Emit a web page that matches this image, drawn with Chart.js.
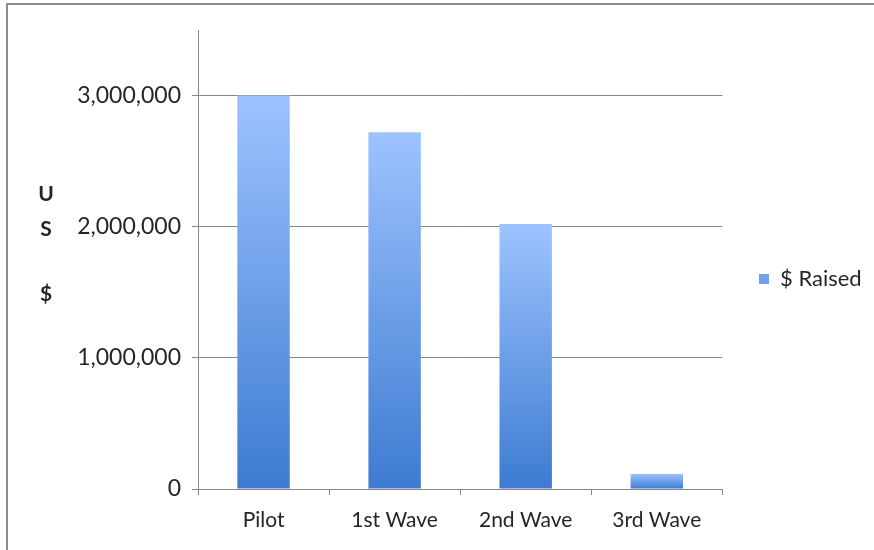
<!DOCTYPE html>
<html>
<head>
<meta charset="utf-8">
<script src="https://cdn.jsdelivr.net/npm/chart.js@4.4.1/dist/chart.umd.min.js"></script>
<style>
  html, body { margin: 0; padding: 0; background: #ffffff; }
  #wrap { width: 874px; height: 550px; position: relative; }
</style>
</head>
<body>
<div id="wrap"><canvas id="chart" width="874" height="550"></canvas></div>
<script>
// Funds raised per campaign phase
const categories = ['Pilot', '1st Wave', '2nd Wave', '3rd Wave'];
const raised = [3000000, 2720000, 2020000, 115000];
const seriesName = '$ Raised';
const yTickValues = [0, 1000000, 2000000, 3000000];
const yTitleLines = ['U', 'S', '$'];

const FONT = 'Lato, "Open Sans", sans-serif';
const TEXT = '#262626';
const LINE = '#878787';

// Vertical gradient for each bar, light at the top and deeper at the base
function barFill(ctx) {
  const chart = ctx.chart;
  if (ctx.type !== 'data' || !chart.chartArea || !chart.scales.y) return '#6a9be6';
  const y = chart.scales.y;
  const top = y.getPixelForValue(ctx.raw);
  const base = y.getPixelForValue(0);
  const g = chart.ctx.createLinearGradient(0, top, 0, base);
  g.addColorStop(0, '#9dc3ff');
  g.addColorStop(1, '#3d7bd1');
  return g;
}

// Outer frame lines, legend placement and the stacked axis caption
const decor = {
  id: 'decor',
  afterLayout(chart) {
    const lg = chart.legend;
    if (lg) {
      const dx = 749 - lg.left;
      lg.left += dx; lg.right += dx;
      lg.top -= 11; lg.bottom -= 11;
    }
  },
  beforeDraw(chart) {
    const c = chart.ctx;
    c.save();
    c.fillStyle = '#ffffff';
    c.fillRect(0, 0, chart.width, chart.height);
    c.strokeStyle = '#8c8c8c';
    c.lineWidth = 2;
    c.beginPath();
    c.moveTo(7, 550); c.lineTo(7, 4); c.lineTo(874, 4);
    c.stroke();
    c.restore();
  },
  afterDraw(chart) {
    const c = chart.ctx;
    c.save();
    c.font = 'bold 21px ' + FONT;
    c.fillStyle = TEXT;
    c.textAlign = 'center';
    c.textBaseline = 'middle';
    const ys = [194, 229, 294];
    yTitleLines.forEach((t, i) => c.fillText(t, 46, ys[i]));
    c.restore();
  }
};

new Chart(document.getElementById('chart'), {
  type: 'bar',
  data: {
    labels: categories,
    datasets: [{
      label: seriesName,
      data: raised,
      backgroundColor: barFill,
      borderWidth: 0,
      barPercentage: 0.4,
      categoryPercentage: 1.0
    }]
  },
  options: {
    responsive: false,
    animation: false,
    layout: { padding: { top: 30, right: 29, bottom: 0, left: 0 } },
    plugins: {
      legend: {
        position: 'right',
        labels: {
          boxWidth: 10,
          boxHeight: 10,
          padding: 10,
          color: TEXT,
          font: { family: FONT, size: 22 }
        }
      },
      tooltip: { enabled: false }
    },
    scales: {
      x: {
        grid: { display: true, drawOnChartArea: false, drawTicks: true, tickLength: 6, color: LINE, offset: true },
        border: { display: true, color: LINE, width: 1 },
        ticks: { color: TEXT, font: { family: FONT, size: 21 }, padding: 13, maxRotation: 0 },
        afterFit(s) { s.height = 61; }
      },
      y: {
        min: 0,
        max: 3500000,
        grid: { color: LINE, lineWidth: 1, tickLength: 6, drawTicks: true },
        border: { display: true, color: LINE, width: 1 },
        ticks: {
          autoSkip: false,
          color: TEXT,
          font: { family: FONT, size: 23 },
          padding: 11,
          callback: v => Number(v).toLocaleString('en-US')
        },
        afterBuildTicks(s) { s.ticks = yTickValues.map(v => ({ value: v })); },
        afterFit(s) { s.width = 198; }
      }
    }
  },
  plugins: [decor]
});
</script>
</body>
</html>
